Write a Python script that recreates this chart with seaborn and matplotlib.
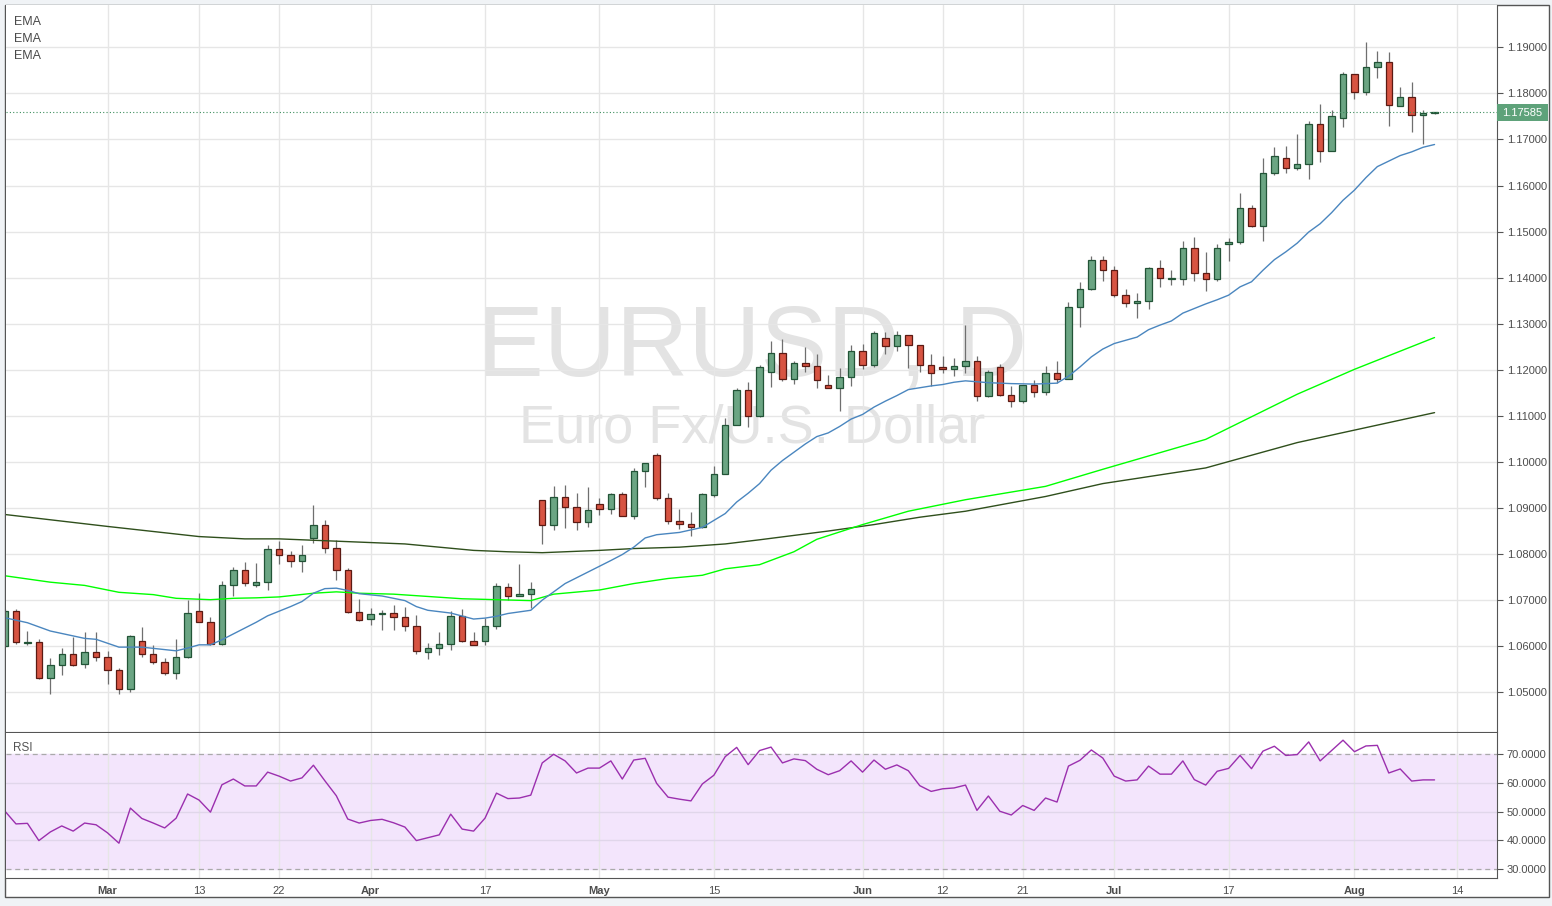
import matplotlib
matplotlib.use('Agg')
import matplotlib.pyplot as plt
from matplotlib.patches import Rectangle
import pandas as pd
import numpy as np
import seaborn as sns

# daily EURUSD candles, 2017-02-16 .. 2017-08-10 (weekdays)
opens = [1.0600, 1.0677, 1.0608, 1.0609, 1.0530, 1.0559, 1.0583, 1.0561, 1.0587, 1.0576,
         1.0548, 1.0507, 1.0611, 1.0583, 1.0565, 1.0541, 1.0576, 1.0677, 1.0652, 1.0604,
         1.0733, 1.0765, 1.0733, 1.0739, 1.0811, 1.0798, 1.0785, 1.0835, 1.0864, 1.0813,
         1.0765, 1.0674, 1.0660, 1.0670, 1.0672, 1.0663, 1.0643, 1.0587, 1.0596, 1.0604,
         1.0665, 1.0612, 1.0612, 1.0643, 1.0729, 1.0710, 1.0714, 1.0917, 1.0863, 1.0924,
         1.0902, 1.0870, 1.0909, 1.0898, 1.0930, 1.0883, 1.0980, 1.1014, 1.0922, 1.0872,
         1.0865, 1.0859, 1.0929, 1.0974, 1.1081, 1.1157, 1.1100, 1.1195, 1.1237, 1.1180,
         1.1215, 1.1209, 1.1167, 1.1161, 1.1185, 1.1241, 1.1211, 1.1269, 1.1252, 1.1276,
         1.1254, 1.1211, 1.1206, 1.1202, 1.1209, 1.1218, 1.1144, 1.1205, 1.1146, 1.1133,
         1.1168, 1.1151, 1.1194, 1.1181, 1.1337, 1.1376, 1.1439, 1.1417, 1.1363, 1.1346,
         1.1350, 1.1422, 1.1398, 1.1396, 1.1465, 1.1411, 1.1396, 1.1472, 1.1478, 1.1552,
         1.1513, 1.1628, 1.1659, 1.1639, 1.1646, 1.1733, 1.1674, 1.1746, 1.1841, 1.1802,
         1.1857, 1.1867, 1.1772, 1.1793, 1.1752, 1.1757]
highs = [1.0680, 1.0680, 1.0633, 1.0615, 1.0575, 1.0596, 1.0619, 1.0631, 1.0631, 1.0590,
         1.0553, 1.0625, 1.0642, 1.0603, 1.0574, 1.0616, 1.0701, 1.0716, 1.0663, 1.0742,
         1.0772, 1.0783, 1.0780, 1.0820, 1.0828, 1.0807, 1.0820, 1.0907, 1.0875, 1.0830,
         1.0770, 1.0703, 1.0683, 1.0679, 1.0690, 1.0685, 1.0668, 1.0607, 1.0631, 1.0677,
         1.0680, 1.0631, 1.0662, 1.0738, 1.0737, 1.0778, 1.0739, 1.0917, 1.0948, 1.0950,
         1.0933, 1.0946, 1.0922, 1.0932, 1.0935, 1.0986, 1.0997, 1.1019, 1.0932, 1.0898,
         1.0892, 1.0932, 1.0991, 1.1096, 1.1161, 1.1173, 1.1211, 1.1263, 1.1267, 1.1220,
         1.1250, 1.1235, 1.1189, 1.1204, 1.1254, 1.1256, 1.1285, 1.1282, 1.1285, 1.1276,
         1.1254, 1.1235, 1.1230, 1.1226, 1.1297, 1.1229, 1.1200, 1.1213, 1.1164, 1.1168,
         1.1177, 1.1209, 1.1220, 1.1348, 1.1391, 1.1446, 1.1446, 1.1426, 1.1376, 1.1367,
         1.1424, 1.1439, 1.1417, 1.1479, 1.1489, 1.1455, 1.1472, 1.1487, 1.1583, 1.1557,
         1.1659, 1.1683, 1.1685, 1.1711, 1.1741, 1.1776, 1.1763, 1.1846, 1.1843, 1.1911,
         1.1893, 1.1889, 1.1813, 1.1824, 1.1763, 1.1760]
lows = [1.0598, 1.0605, 1.0603, 1.0528, 1.0496, 1.0538, 1.0557, 1.0553, 1.0567, 1.0517,
        1.0497, 1.0501, 1.0576, 1.0561, 1.0537, 1.0528, 1.0574, 1.0652, 1.0603, 1.0603,
        1.0708, 1.0730, 1.0728, 1.0721, 1.0778, 1.0771, 1.0762, 1.0824, 1.0802, 1.0743,
        1.0672, 1.0654, 1.0645, 1.0636, 1.0635, 1.0632, 1.0583, 1.0572, 1.0580, 1.0591,
        1.0610, 1.0602, 1.0603, 1.0638, 1.0700, 1.0709, 1.0684, 1.0822, 1.0852, 1.0856,
        1.0852, 1.0858, 1.0885, 1.0888, 1.0883, 1.0876, 1.0945, 1.0917, 1.0865, 1.0855,
        1.0840, 1.0857, 1.0924, 1.0974, 1.1081, 1.1076, 1.1097, 1.1163, 1.1176, 1.1170,
        1.1196, 1.1161, 1.1161, 1.1111, 1.1165, 1.1202, 1.1207, 1.1235, 1.1241, 1.1204,
        1.1195, 1.1165, 1.1193, 1.1187, 1.1194, 1.1133, 1.1140, 1.1144, 1.1120, 1.1129,
        1.1142, 1.1146, 1.1172, 1.1181, 1.1292, 1.1374, 1.1393, 1.1357, 1.1337, 1.1313,
        1.1331, 1.1380, 1.1383, 1.1385, 1.1393, 1.1371, 1.1393, 1.1436, 1.1474, 1.1511,
        1.1480, 1.1622, 1.1628, 1.1633, 1.1615, 1.1652, 1.1674, 1.1726, 1.1787, 1.1796,
        1.1833, 1.1730, 1.1772, 1.1717, 1.1691, 1.1756]
closes = [1.0677, 1.0609, 1.0610, 1.0530, 1.0559, 1.0583, 1.0559, 1.0587, 1.0576, 1.0548,
          1.0507, 1.0622, 1.0583, 1.0565, 1.0541, 1.0576, 1.0672, 1.0652, 1.0604, 1.0733,
          1.0765, 1.0738, 1.0739, 1.0811, 1.0797, 1.0785, 1.0798, 1.0864, 1.0813, 1.0765,
          1.0674, 1.0657, 1.0670, 1.0672, 1.0663, 1.0643, 1.0589, 1.0596, 1.0604, 1.0665,
          1.0612, 1.0602, 1.0643, 1.0730, 1.0710, 1.0714, 1.0725, 1.0863, 1.0924, 1.0902,
          1.0870, 1.0896, 1.0898, 1.0930, 1.0883, 1.0980, 1.0997, 1.0922, 1.0872, 1.0865,
          1.0859, 1.0930, 1.0974, 1.1081, 1.1157, 1.1100, 1.1207, 1.1237, 1.1180, 1.1215,
          1.1209, 1.1178, 1.1161, 1.1185, 1.1241, 1.1211, 1.1280, 1.1252, 1.1276, 1.1254,
          1.1211, 1.1193, 1.1202, 1.1209, 1.1218, 1.1144, 1.1196, 1.1146, 1.1133, 1.1168,
          1.1151, 1.1192, 1.1181, 1.1337, 1.1376, 1.1439, 1.1417, 1.1363, 1.1346, 1.1350,
          1.1422, 1.1400, 1.1400, 1.1465, 1.1411, 1.1396, 1.1465, 1.1478, 1.1552, 1.1513,
          1.1628, 1.1663, 1.1639, 1.1646, 1.1733, 1.1674, 1.1750, 1.1841, 1.1802, 1.1857,
          1.1867, 1.1774, 1.1793, 1.1752, 1.1757, 1.17585]

rsi_vals = [50.3, 45.7, 45.9, 39.9, 42.9, 45.0, 43.2, 46.0, 45.4, 42.6,
            39.0, 51.2, 47.6, 46.0, 44.3, 47.7, 56.1, 54.0, 49.8, 59.3,
            61.3, 58.9, 58.9, 63.7, 62.3, 60.6, 61.7, 66.1, 60.7, 55.5,
            47.4, 46.0, 46.9, 47.3, 46.1, 44.6, 39.9, 40.9, 41.9, 49.1,
            43.9, 43.2, 47.7, 56.4, 54.5, 54.7, 55.7, 66.9, 69.9, 67.6,
            63.4, 65.1, 65.1, 67.6, 61.3, 67.9, 68.5, 59.8, 55.0, 54.3,
            53.7, 59.6, 62.6, 69.1, 72.3, 66.3, 71.2, 72.4, 66.9, 68.3,
            67.7, 64.7, 62.8, 64.2, 67.6, 63.7, 67.9, 64.7, 66.2, 64.2,
            59.0, 57.0, 57.9, 58.2, 59.2, 50.4, 55.4, 50.1, 48.8, 52.1,
            50.4, 54.7, 53.3, 65.8, 67.8, 71.4, 68.6, 62.3, 60.6, 61.0,
            65.8, 63.0, 63.0, 67.6, 61.1, 59.2, 64.0, 65.0, 69.5, 64.9,
            71.0, 72.7, 69.5, 69.8, 74.2, 67.6, 71.2, 74.8, 70.8, 72.8,
            73.0, 63.4, 64.8, 60.6, 61.0, 61.0]

# EMA readings at candle numbers (1 = first candle)
ema_fast_bar = [1, 3, 5, 8, 9, 11, 13, 16, 17, 18, 19, 20, 23, 24, 26, 27, 28, 29, 30, 31,
                32, 34, 36, 37, 38, 40, 42, 43, 44, 45, 47, 48, 50, 52, 54, 55, 56, 57, 58, 60,
                62, 63, 64, 65, 66, 67, 68, 69, 70, 71, 72, 73, 74, 75, 76, 77, 78, 79, 80, 81,
                82, 83, 84, 85, 86, 87, 89, 91, 93, 94, 95, 96, 97, 98, 99, 100, 101, 102, 103,
                104, 105, 106, 107, 108, 109, 110, 111, 112, 113, 114, 115, 116, 117, 118, 119,
                120, 121, 122, 123, 124, 125, 126]
ema_fast = [1.0662, 1.0651, 1.0633, 1.0617, 1.0615, 1.0598, 1.0598, 1.0590, 1.0596, 1.0603,
            1.0603, 1.0614, 1.0652, 1.0666, 1.0686, 1.0697, 1.0715, 1.0725, 1.0726, 1.0721,
            1.0714, 1.0709, 1.0699, 1.0686, 1.0678, 1.0672, 1.0659, 1.0661, 1.0665, 1.0671,
            1.0678, 1.0700, 1.0736, 1.0761, 1.0786, 1.0799, 1.0815, 1.0835, 1.0842, 1.0847,
            1.0858, 1.0873, 1.0888, 1.0913, 1.0932, 1.0953, 1.0982, 1.1003, 1.1021, 1.1039,
            1.1055, 1.1063, 1.1077, 1.1093, 1.1103, 1.1119, 1.1132, 1.1144, 1.1157, 1.1161,
            1.1165, 1.1168, 1.1173, 1.1176, 1.1174, 1.1172, 1.1170, 1.1169, 1.1171, 1.1186,
            1.1206, 1.1228, 1.1245, 1.1257, 1.1264, 1.1271, 1.1287, 1.1297, 1.1306, 1.1323,
            1.1333, 1.1343, 1.1352, 1.1362, 1.1380, 1.1391, 1.1416, 1.1439, 1.1456, 1.1475,
            1.1499, 1.1517, 1.1541, 1.1568, 1.1590, 1.1617, 1.1641, 1.1653, 1.1665, 1.1673,
            1.1683, 1.1689]

ema_mid_bar = [1, 5, 8, 11, 14, 16, 19, 21, 23, 25, 28, 30, 32, 35, 38, 41, 44, 47, 49, 53,
               56, 59, 62, 64, 67, 70, 72, 76, 80, 85, 92, 97, 106, 114, 119, 126]
ema_mid = [1.0753, 1.0739, 1.0732, 1.0717, 1.0712, 1.0704, 1.0701, 1.0704, 1.0705, 1.0707,
           1.0715, 1.0718, 1.0715, 1.0713, 1.0708, 1.0703, 1.0701, 1.0699, 1.0713, 1.0722,
           1.0736, 1.0747, 1.0754, 1.0768, 1.0777, 1.0805, 1.0832, 1.0864, 1.0893, 1.0918,
           1.0947, 1.0984, 1.1049, 1.1147, 1.1201, 1.1270]

ema_slow_bar = [1, 10, 18, 22, 25, 30, 36, 42, 45, 48, 53, 56, 60, 64, 67, 73, 77, 81, 85,
                92, 97, 106, 114, 126]
ema_slow = [1.0886, 1.0860, 1.0838, 1.0833, 1.0833, 1.0828, 1.0822, 1.0808, 1.0805, 1.0803,
            1.0808, 1.0812, 1.0815, 1.0822, 1.0831, 1.0850, 1.0864, 1.0880, 1.0893, 1.0925,
            1.0953, 1.0987, 1.1042, 1.1107]

tick_dates = ['2017-03-01', '2017-03-13', '2017-03-22', '2017-04-03', '2017-04-17',
              '2017-05-01', '2017-05-15', '2017-06-01', '2017-06-12', '2017-06-21',
              '2017-07-03', '2017-07-17', '2017-08-01', '2017-08-14']
tick_labels = ['Mar', '13', '22', 'Apr', '17', 'May', '15', 'Jun', '12', '21',
               'Jul', '17', 'Aug', '14']
price_ticks = [1.05, 1.06, 1.07, 1.08, 1.09, 1.10, 1.11, 1.12, 1.13, 1.14,
               1.15, 1.16, 1.17, 1.18, 1.19]
rsi_ticks = [30, 40, 50, 60, 70]
last_price = 1.17585

# ---------------------------------------------------------------------------
W, H = 1552, 906
sns.set_style('white')
plt.rcParams['font.family'] = ['Liberation Sans', 'DejaVu Sans']


def fx(px):
    return px / W


def fy(py):
    return 1 - py / H


dates = pd.bdate_range('2017-02-16', '2017-08-14')
pos_of = {d: i for i, d in enumerate(dates)}
n = len(closes)
df = pd.DataFrame({'x': np.arange(n), 'open': opens, 'high': highs,
                   'low': lows, 'close': closes, 'rsi': rsi_vals})
tick_pos = [pos_of[pd.Timestamp(d)] for d in tick_dates]

fig = plt.figure(figsize=(W / 100, H / 100), dpi=100, facecolor='#f0f3f6')
fig.add_artist(Rectangle((fx(5), fy(897)), fx(1549) - fx(5), fy(5) - fy(897),
                         transform=fig.transFigure, facecolor='white',
                         edgecolor='#555555', lw=1, zorder=-5))

ax = fig.add_axes([fx(6), fy(732), fx(1497) - fx(6), fy(5) - fy(732)])
ax_rsi = fig.add_axes([fx(6), fy(878), fx(1497) - fx(6), fy(733) - fy(878)], sharex=ax)

x0 = (6 - 4.54) / 11.44
x1 = (1497 - 4.54) / 11.44
ax.set_xlim(x0, x1)
ax.set_ylim(1.04138, 1.19918)
ax_rsi.set_ylim(26.9, 77.3)

grid_c = '#e6e6e6'
for a in (ax, ax_rsi):
    for p in tick_pos:
        a.axvline(p, color=grid_c, lw=1, zorder=0.3)
for p in price_ticks:
    ax.axhline(p, color=grid_c, lw=1, zorder=0.3)

# watermark
ax.text(fx(752), fy(376), 'EURUSD, D', transform=fig.transFigure, ha='center',
        va='baseline', fontsize=72, color='#e3e3e3', zorder=0.2)
ax.text(fx(752), fy(443), 'Euro Fx/U.S. Dollar', transform=fig.transFigure,
        ha='center', va='baseline', fontsize=39, color='#e3e3e3', zorder=0.2)

# candles
up = df['close'] >= df['open']
ax.vlines(df['x'], df['low'], df['high'], color='#6f6f6f', lw=0.9, zorder=2)
body_lo = np.minimum(df['open'], df['close'])
body_h = np.maximum(np.abs(df['close'] - df['open']), 0.00005)
ax.bar(df['x'][up], body_h[up], bottom=body_lo[up], width=0.56,
       color='#6ba583', edgecolor='#225437', lw=0.9, zorder=3)
ax.bar(df['x'][~up], body_h[~up], bottom=body_lo[~up], width=0.56,
       color='#d75442', edgecolor='#5b1a13', lw=0.9, zorder=3)

# EMAs
sns.lineplot(x=np.array(ema_slow_bar) - 1, y=ema_slow, ax=ax, color='#2f4f1c',
             lw=1.0, estimator=None, zorder=4)
sns.lineplot(x=np.array(ema_mid_bar) - 1, y=ema_mid, ax=ax, color='#00ff00',
             lw=1.0, estimator=None, zorder=4)
sns.lineplot(x=np.array(ema_fast_bar) - 1, y=ema_fast, ax=ax, color='#4a86bf',
             lw=1.0, estimator=None, zorder=4)

ax.axhline(last_price, color='#3f8f5f', lw=0.8, ls=(0, (1, 2)), zorder=4)

# RSI panel
ax_rsi.axhspan(30, 70, color='#f3e5fc', zorder=0.1)
for lvl in (40, 50, 60):
    ax_rsi.axhline(lvl, color='#e0d6ea', lw=1, zorder=0.3)
for lvl in (30, 70):
    ax_rsi.axhline(lvl, color='#aaaaaa', lw=0.9, ls=(0, (4, 3)), zorder=0.4)
sns.lineplot(data=df, x='x', y='rsi', ax=ax_rsi, color='#9b2fae', lw=1.0,
             estimator=None, zorder=3)

# axes cosmetics
spine_c = '#555555'
for a in (ax, ax_rsi):
    a.set_xlabel('')
    a.set_ylabel('')
    a.spines['left'].set_visible(False)
    a.spines['top'].set_visible(False)
    a.spines['right'].set_color(spine_c)
    a.spines['bottom'].set_color(spine_c)
    a.yaxis.tick_right()
    a.tick_params(axis='y', direction='out', length=4, width=0.8, color=spine_c,
                  labelsize=8, labelcolor='#4d4d4d', pad=3)

ax.set_yticks(price_ticks)
ax.set_yticklabels([f'{p:.5f}' for p in price_ticks])
ax.tick_params(axis='x', bottom=False, labelbottom=False)

ax_rsi.set_yticks(rsi_ticks)
ax_rsi.set_yticklabels([f'{r:.4f}' for r in rsi_ticks])
ax_rsi.set_xticks(tick_pos)
ax_rsi.set_xticklabels(tick_labels)
ax_rsi.tick_params(axis='x', direction='out', length=4, width=0.8, color=spine_c,
                   labelsize=8, labelcolor='#4d4d4d', pad=1.5)
for lbl in ax_rsi.get_xticklabels():
    if lbl.get_text().isalpha():
        lbl.set_fontweight('bold')

# last price tag
fig.add_artist(Rectangle((fx(1497), fy(121)), fx(1548) - fx(1497), fy(104) - fy(121),
                         transform=fig.transFigure, facecolor='#5ea27a',
                         edgecolor='none', zorder=10))
fig.text(fx(1522), fy(112.5), f'{last_price:.5f}', ha='center', va='center',
         fontsize=8, color='white', zorder=11)

# indicator labels
for yy in (22, 39, 56):
    ax.text(fx(14), fy(yy), 'EMA', transform=fig.transFigure, ha='left',
            va='center', fontsize=9, color='#4a4a4a', zorder=6)
ax_rsi.text(fx(13), fy(748), 'RSI', transform=fig.transFigure, ha='left',
            va='center', fontsize=8.5, color='#555555', zorder=6)

fig.savefig('out.png', dpi=100, facecolor=fig.get_facecolor())
